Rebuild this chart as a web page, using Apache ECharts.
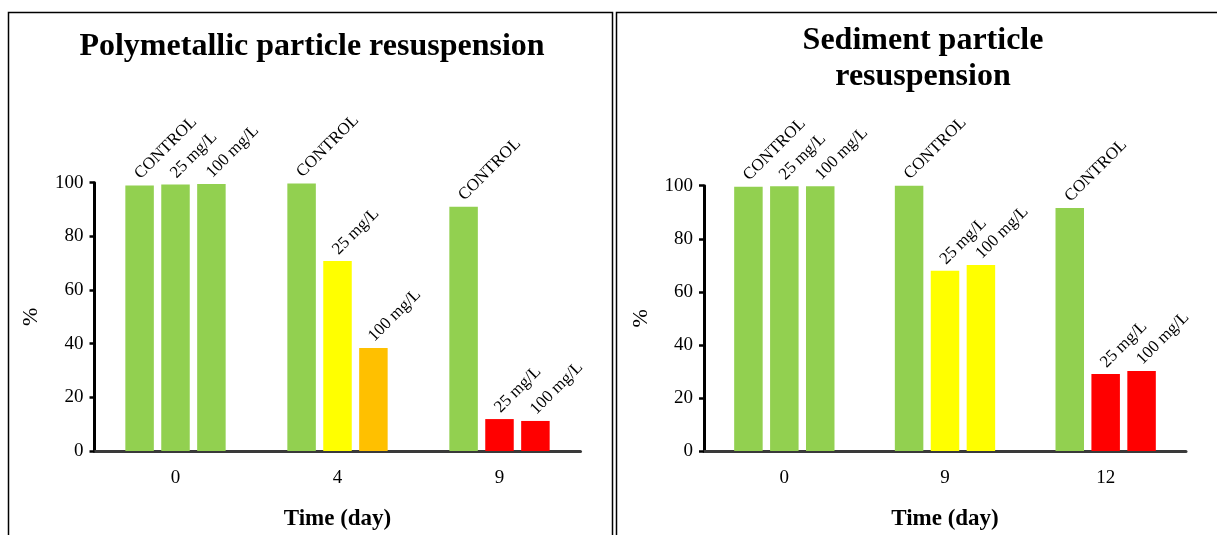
<!DOCTYPE html>
<html>
<head>
<meta charset="utf-8">
<script src="https://cdn.jsdelivr.net/npm/echarts@6/dist/echarts.min.js"></script>
<style>
html,body{margin:0;padding:0;background:#fff;}
#chart{width:1217px;height:535px;}
</style>
</head>
<body>
<div id="chart"></div>
<script>
// ---- data ----
const leftTitle = 'Polymetallic particle resuspension';
const rightTitleLines = ['Sediment particle', 'resuspension'];
const leftCategories = ['0', '4', '9'];
const rightCategories = ['0', '9', '12'];
const seriesNames = ['CONTROL', '25 mg/L', '100 mg/L'];
const leftControl = [99.0, 99.7, 91.0];
const left25 = [99.3, 70.8, 11.9];
const left100 = [99.5, 38.4, 11.2];
const rightControl = [99.6, 100, 91.6];
const right25 = [99.8, 67.9, 29.0];
const right100 = [99.8, 70.1, 30.2];
const yAxisName = '%';
const xAxisName = 'Time (day)';

// ---- styles ----
const GREEN = '#92D050', YELLOW = '#FFFF00', ORANGE = '#FFC000', RED = '#FF0000';
// colours per category: [CONTROL, 25 mg/L, 100 mg/L]
const leftColors = [[GREEN, GREEN, GREEN], [GREEN, YELLOW, ORANGE], [GREEN, RED, RED]];
const rightColors = [[GREEN, GREEN, GREEN], [GREEN, YELLOW, YELLOW], [GREEN, RED, RED]];
const FONT = "'Liberation Serif', 'Times New Roman', serif";

const chart = echarts.init(document.getElementById('chart'), null, {renderer: 'canvas'});

function yAxis(gridIndex) {
  return {
    type: 'value', gridIndex, min: 0, max: 100, interval: 20,
    name: yAxisName, nameLocation: 'middle', nameGap: 52, nameRotate: 90,
    nameTextStyle: {fontFamily: FONT, fontSize: 22, color: '#000'},
    axisLine: {show: true, lineStyle: {color: '#000', width: 3}},
    axisTick: {show: true, length: 5, lineStyle: {color: '#000', width: 2.5}},
    axisLabel: {fontFamily: FONT, fontSize: 19, color: '#000', margin: 11},
    splitLine: {show: false}
  };
}
function xAxis(gridIndex, cats) {
  return {
    type: 'category', gridIndex, data: cats,
    name: xAxisName, nameLocation: 'middle', nameGap: 57,
    nameTextStyle: {fontFamily: FONT, fontSize: 23, fontWeight: 'bold', color: '#000'},
    axisLine: {show: true, lineStyle: {color: '#3a3a3a', width: 3}},
    axisTick: {show: false},
    axisLabel: {fontFamily: FONT, fontSize: 19, color: '#000', margin: 18}
  };
}
function barSeries(name, values, colors, axisIdx) {
  return {
    type: 'bar', name, xAxisIndex: axisIdx, yAxisIndex: axisIdx,
    data: values.map((v, i) => ({value: v, itemStyle: {color: colors[i]}})),
    barWidth: 28.5, barGap: '26%',
    label: {
      show: true, formatter: name, position: [18, -3], rotate: 45,
      align: 'left', verticalAlign: 'bottom',
      fontFamily: FONT, fontSize: 17, color: '#000'
    }
  };
}

const series = [];
const leftData = [leftControl, left25, left100];
const rightData = [rightControl, right25, right100];
seriesNames.forEach((n, s) => {
  series.push(barSeries(n, leftData[s], leftData[s].map((_, i) => leftColors[i][s]), 0));
});
seriesNames.forEach((n, s) => {
  series.push(barSeries(n, rightData[s], rightData[s].map((_, i) => rightColors[i][s]), 1));
});

const titleFont = "bold 32px " + FONT;
chart.setOption({
  animation: false,
  backgroundColor: '#fff',
  grid: [
    {left: 94.5, top: 182.7, width: 486, height: 268.3, outerBoundsMode: 'none', containLabel: false},
    {left: 704, top: 185.7, width: 482, height: 265.3, outerBoundsMode: 'none', containLabel: false}
  ],
  xAxis: [xAxis(0, leftCategories), xAxis(1, rightCategories)],
  yAxis: [yAxis(0), yAxis(1)],
  series,
  graphic: [
    {type: 'rect', shape: {x: 8.5, y: 12.5, width: 604, height: 540}, style: {fill: 'none', stroke: '#000', lineWidth: 1.5}, silent: true},
    {type: 'rect', shape: {x: 616.5, y: 12.5, width: 700, height: 540}, style: {fill: 'none', stroke: '#000', lineWidth: 1.5}, silent: true},
    {type: 'text', x: 312, y: 47, style: {text: leftTitle, font: titleFont, fill: '#000', textAlign: 'center', textVerticalAlign: 'middle'}},
    {type: 'text', x: 923, y: 41, style: {text: rightTitleLines[0], font: titleFont, fill: '#000', textAlign: 'center', textVerticalAlign: 'middle'}},
    {type: 'text', x: 923, y: 77, style: {text: rightTitleLines[1], font: titleFont, fill: '#000', textAlign: 'center', textVerticalAlign: 'middle'}}
  ]
});
</script>
</body>
</html>
